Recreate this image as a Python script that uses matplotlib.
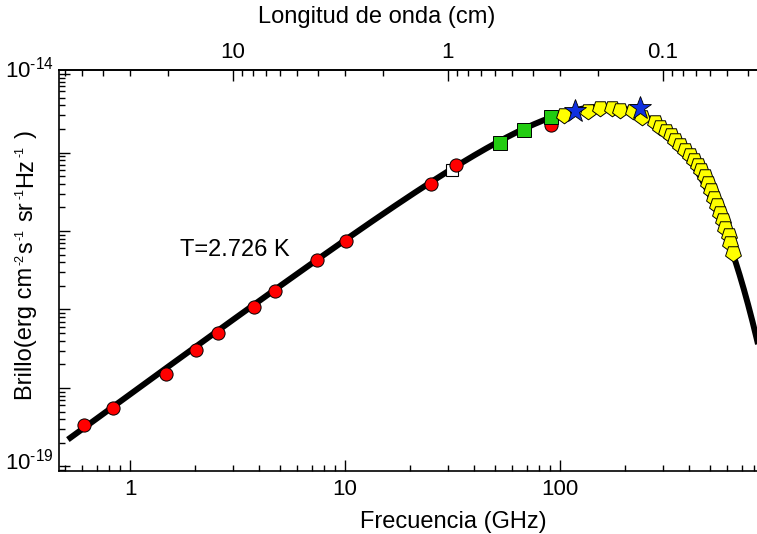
import numpy as np
import matplotlib
matplotlib.use("Agg")
import matplotlib.pyplot as plt
from matplotlib.ticker import FixedLocator, FixedFormatter, LogLocator, NullFormatter
from matplotlib.transforms import ScaledTranslation

plt.rcParams['font.family'] = ['Liberation Sans', 'DejaVu Sans']
plt.rcParams['mathtext.fontset'] = 'custom'
plt.rcParams['mathtext.rm'] = 'Liberation Sans'
plt.rcParams['mathtext.it'] = 'Liberation Sans:italic'
plt.rcParams['mathtext.bf'] = 'Liberation Sans:bold'

# temperatura del cuerpo negro
T_cmb = 2.726  # K

# medidas en radio (circulos rojos)
radio_ghz = [0.613, 0.831, 1.466, 2.034, 2.558, 3.762, 4.726, 7.41, 10.1, 25.2, 32.9, 90.5]
radio_b = [3.38e-19, 5.61e-19, 1.51e-18, 3.02e-18, 4.98e-18, 1.09e-17,
           1.73e-17, 4.28e-17, 7.47e-17, 4.01e-16, 7.00e-16, 2.24e-15]

# cuadrado abierto
open_ghz = [31.4]
open_b = [5.98e-16]

# cuadrados verdes
green_ghz = [52.8, 68.0, 90.5]
green_b = [1.31e-15, 1.94e-15, 2.81e-15]

# FIRAS (pentagonos amarillos)
firas_ghz = [104.4, 135.0, 153.5, 174.5, 190.1, 218.6, 240.6, 276.6, 291.9, 311.2,
             328.3, 342.7, 361.5, 381.4, 402.4, 420.1, 438.5, 452.8, 472.6, 488.0,
             503.9, 520.4, 537.4, 554.9, 573.0, 585.4, 611.0, 617.6, 637.8]
firas_b = [3.01e-15, 3.38e-15, 3.69e-15, 3.69e-15, 3.48e-15, 3.38e-15, 2.83e-15, 2.45e-15,
           2.11e-15, 1.88e-15, 1.67e-15, 1.44e-15, 1.25e-15, 1.08e-15, 9.29e-16, 8.01e-16,
           6.93e-16, 5.98e-16, 5.02e-16, 4.08e-16, 3.33e-16, 2.63e-16, 2.14e-16, 1.69e-16,
           1.38e-16, 1.09e-16, 8.89e-17, 7.03e-17, 5.25e-17]

# estrellas azules
star_ghz = [117.0, 236.4]
star_b = [3.38e-15, 3.66e-15]

# ejes
y_major = [1e-19, 1e-18, 1e-17, 1e-16, 1e-15, 1e-14]
y_major_labels = ['$10^{\u201019}$', '', '', '', '', '$10^{\u201014}$']
top_ticks = [10, 1, 0.1]
top_labels = ['10', '1', '0.1']

# titulo del eje y por trozos: texto normal, exponente o espacio
ylabel_parts = [('Brillo(erg cm', 'n'), ('-2', 's'), ('s', 'n'), ('-1', 's'), (' ', 'e'),
                ('sr', 'n'), ('-1', 's'), ('Hz', 'n'), ('-1', 's'), (' ', 'e'), (')', 'n')]


def planck(nu_ghz, T):
    h = 6.62607e-27
    k = 1.380649e-16
    c = 2.99792458e10
    nu = np.asarray(nu_ghz) * 1e9
    return 2 * h * nu**3 / c**2 / np.expm1(h * nu / (k * T))


def vertical_label(fig, parts, x_px, y_px, size=17, sup_size=9, sup_raise=8.5):
    # escribe el texto girado 90 grados, trozo a trozo, de abajo hacia arriba
    W, H = fig.bbox.width, fig.bbox.height
    renderer = fig.canvas.get_renderer()
    y = y_px
    for txt, kind in parts:
        if kind == 'e':
            y += 0.278 * size * fig.dpi / 72
            continue
        fs = sup_size if kind == 's' else size
        dx = -sup_raise if kind == 's' else 0
        t = fig.text((x_px + dx) / W, y / H, txt, rotation=90, rotation_mode='anchor',
                     ha='left', va='baseline', fontsize=fs)
        y += t.get_window_extent(renderer).height + 1.5


nu_curve = np.logspace(np.log10(0.514), 3, 500)

fig = plt.figure(figsize=(7.57, 5.34), dpi=100)
ax = fig.add_axes([59 / 757, 63.5 / 534, 698 / 757, 400.5 / 534])

ax.plot(nu_curve, planck(nu_curve, T_cmb), color='black', lw=4.3, zorder=2,
        solid_capstyle='butt')
ax.plot(open_ghz, open_b, 's', ms=8, mfc='white', mec='black', mew=0.8, zorder=3)
ax.plot(radio_ghz, radio_b, 'o', ms=9.5, mfc='#ff0000', mec='black', mew=0.7, zorder=4)
ax.plot(green_ghz, green_b, 's', ms=10, mfc='#22cc11', mec='black', mew=0.7, zorder=5)
ax.plot(firas_ghz, firas_b, marker=(5, 0, 180), ls='none', ms=12, mfc='#ffff00',
        mec='black', mew=0.7, zorder=6)
ax.plot(star_ghz, star_b, '*', ms=17, mfc='#1030e0', mec='black', mew=0.6, zorder=7)

ax.set_xscale('log')
ax.set_yscale('log')
ax.set_xlim(0.4674, 824.6)
ax.set_ylim(10**-19.051, 10**-13.949)

ax.set_xticks([1, 10, 100], labels=['1', '10', '100'])
ax.xaxis.set_minor_locator(LogLocator(base=10, subs=np.arange(2, 10)))
ax.xaxis.set_minor_formatter(NullFormatter())
ax.yaxis.set_major_locator(FixedLocator(y_major))
ax.yaxis.set_major_formatter(FixedFormatter(y_major_labels))
ax.yaxis.set_minor_locator(LogLocator(base=10, subs=np.arange(2, 10)))
ax.yaxis.set_minor_formatter(NullFormatter())

ax.tick_params(which='both', direction='in', top=False, right=False, width=1.0,
               labelsize=16, color='black')
ax.tick_params(which='major', length=8, pad=6)
ax.tick_params(which='minor', length=4.5)
ax.tick_params(axis='y', pad=4)
ax.spines['right'].set_visible(False)
for s in ('left', 'bottom', 'top'):
    ax.spines[s].set_linewidth(1.2)

# etiquetas del eje y apoyadas sobre la linea base
for t in ax.yaxis.get_major_ticks():
    t.label1.set_verticalalignment('baseline')
    t.label1.set_transform(t.label1.get_transform()
                           + ScaledTranslation(0, -0.035, fig.dpi_scale_trans))

ax.text(0.173, 0.55, 'T=2.726 K', transform=ax.transAxes, fontsize=17,
        ha='left', va='center')

ax.set_xlabel('Frecuencia (GHz)', fontsize=17)
ax.xaxis.set_label_coords(0.5645, -0.1)
vertical_label(fig, ylabel_parts, 32, 134)

# eje superior en longitud de onda
secax = ax.secondary_xaxis('top', functions=(lambda x: 29.9792 / x, lambda x: 29.9792 / x))
secax.set_xticks(top_ticks, labels=top_labels)
secax.xaxis.set_minor_locator(LogLocator(base=10, subs=np.arange(2, 10)))
secax.xaxis.set_minor_formatter(NullFormatter())
secax.tick_params(which='both', direction='in', width=1.0, labelsize=16)
secax.tick_params(which='major', length=8, pad=5)
secax.tick_params(which='minor', length=4.5)
secax.spines['top'].set_linewidth(1.2)
fig.text(377 / 757, 1 - 17 / 534, 'Longitud de onda (cm)', fontsize=17,
         ha='center', va='center')

fig.savefig('out.png', dpi=100)
